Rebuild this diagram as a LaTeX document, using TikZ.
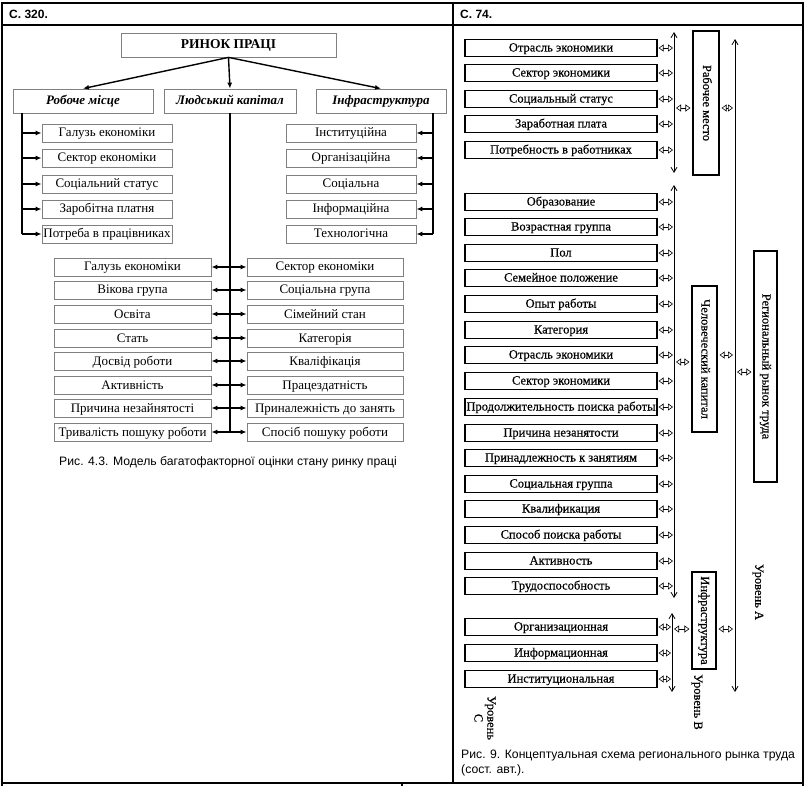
\documentclass[tikz,border=0pt]{standalone}
\usepackage{fontspec}
\setmainfont{Liberation Serif}
\newfontfamily\arialf{Liberation Sans}
\newfontfamily\scanf[FakeBold=0.5]{Liberation Serif}
\usetikzlibrary{arrows.meta}
\begin{document}
\begin{tikzpicture}[x=1pt,y=-1pt,
  frame/.style={line width=1.5pt},
  lbox/.style={draw=black!50, line width=0.8pt, minimum height=18pt, inner sep=0pt, text height=9.5pt, text depth=1.5pt, font=\fontsize{13}{15}\selectfont},
  hbox/.style={lbox, minimum height=24pt, font=\fontsize{13}{15}\selectfont\bfseries\itshape},
  lline/.style={line width=1.4pt},
  larr/.style={lline, -{Latex[length=6pt,width=5pt]}},
  ldarr/.style={lline, {Latex[length=6pt,width=5pt]}-{Latex[length=6pt,width=5pt]}},
  rbox/.style={draw=black, line width=1.1pt, minimum width=192pt, minimum height=17pt, inner sep=0pt, text height=9pt, text depth=2pt, font=\scanf\fontsize{12.5}{14}\selectfont},
  vbox/.style={draw=black, line width=1.1pt, inner sep=0pt, text height=8.5pt, text depth=2.5pt, font=\scanf\fontsize{12.5}{14}\selectfont},
  vline/.style={line width=0.8pt, {Straight Barb[length=5pt,width=6pt]}-{Straight Barb[length=5pt,width=6pt]}},
  hollow/.style={line width=0.6pt, {Triangle[open,length=5pt,width=7pt]}-{Triangle[open,length=5pt,width=7pt]}},
  caption/.style={font=\arialf\fontsize{12.2}{15}\selectfont, inner sep=0pt},
  head/.style={font=\arialf\bfseries\fontsize{12}{14}\selectfont, inner sep=0pt, anchor=west},
  lvl/.style={font=\scanf\fontsize{12.5}{13}\selectfont, inner sep=0pt, rotate=-90, align=center}
]
\useasboundingbox (0,0) rectangle (808,786);
% table
\draw[frame] (2,3) rectangle (803,783);
\draw[frame] (2,25) -- (803,25);
\draw[frame] (453,3) -- (453,783);
\draw[frame] (2,783) -- (2,786);
\draw[frame] (402,783) -- (402,786);
\draw[frame] (803,783) -- (803,786);
\node[head] (h1) at (9,14) {С. 320.};
\node[head] (h2) at (460,14) {С. 74.};

% ---------- left panel ----------
\node[lbox, minimum width=215pt, minimum height=24pt, font=\fontsize{13.5}{15}\selectfont\bfseries] (top) at (228.5,45) {РИНОК ПРАЦІ};
\node[hbox, minimum width=140pt] (rm) at (83,101) {Робоче місце};
\node[hbox, minimum width=132pt] (lk) at (230,101) {Людський капітал};
\node[hbox, minimum width=130pt] (inf) at (381,101) {Інфраструктура};
\draw[larr] (top.south) -- (rm.north);
\draw[larr] (top.south) -- (lk.north);
\draw[larr] (top.south) -- (inf.north);

\foreach \y/\t [count=\i] in {133/Галузь економіки,158/Сектор економіки,184/Соціальний статус,209/Заробітна платня,234/Потреба в працівниках}
  \node[lbox, minimum width=130pt] (ls\i) at (107,\y) {\t};
\foreach \y/\t [count=\i] in {133/Інституційна,158/Організаційна,184/Соціальна,209/Інформаційна,234/Технологічна}
  \node[lbox, minimum width=130pt] (rs\i) at (351,\y) {\t};
\coordinate (lv) at (22,113);
\coordinate (rv) at (433,113);
\draw[lline] (lv) -- (lv |- ls5.west);
\draw[lline] (rv) -- (rv |- rs5.east);
\foreach \i in {1,...,5}{
  \draw[larr] (lv |- ls\i.west) -- (ls\i.west);
  \draw[larr] (rv |- rs\i.east) -- (rs\i.east);
}

\foreach \y/\t [count=\i] in {267/Галузь економіки,290/Вікова група,314/Освіта,338/Стать,361/Досвід роботи,385/Активність,408/Причина незайнятості,432/Тривалість пошуку роботи}
  \node[lbox, minimum width=157pt] (bl\i) at (132.5,\y) {\t};
\foreach \y/\t [count=\i] in {267/Сектор економіки,290/Соціальна група,314/Сімейний стан,338/Категорія,361/Кваліфікація,385/Працездатність,408/Приналежність до занять,432/Спосіб пошуку роботи}
  \node[lbox, minimum width=156pt] (br\i) at (325,\y) {\t};
\draw[lline] (lk.south) -- (lk.south |- bl8.east);
\foreach \i in {1,...,8}
  \draw[ldarr] (bl\i.east) -- (br\i.west);
\node[caption] (cap1) at (228,462) {Рис. 4.3. Модель багатофакторної оцінки стану ринку праці};

% ---------- right panel ----------
\foreach \y/\t [count=\i] in {48/Отрасль экономики,73/Сектор экономики,99/Социальный статус,124/Заработная плата,150/Потребность в работниках}
  \node[rbox] (a\i) at (561,\y) {\t};
\foreach \y/\t [count=\i] in {202/Образование,227/Возрастная группа,253/Пол,278/Семейное положение,304/Опыт работы,330/Категория,355/Отрасль экономики,381/Сектор экономики,407/Продолжительность поиска работы,433/Причина незанятости,458/Принадлежность к занятиям,484/Социальная группа,509/Квалификация,535/Способ поиска работы,561/Активность,586/Трудоспособность}
  \node[rbox] (b\i) at (561,\y) {\t};
\foreach \y/\t [count=\i] in {627/Организационная,653/Информационная,679/Институциональная}
  \node[rbox] (c\i) at (561,\y) {\t};

\coordinate (v1t) at (674,32);  \coordinate (v1b) at (674,173);
\coordinate (v2t) at (674,185); \coordinate (v2b) at (674,598);
\coordinate (v3t) at (672,613); \coordinate (v3b) at (672,692);
\coordinate (vat) at (735,39);  \coordinate (vab) at (735,692);
\draw[vline] (v1t) -- (v1b);
\draw[vline] (v2t) -- (v2b);
\draw[vline] (v3t) -- (v3b);
\draw[vline] (vat) -- (vab);

\foreach \i in {1,...,5}
  \draw[hollow, shorten <=1pt, shorten >=1pt] (a\i.east) -- (a\i.east -| v1t);
\foreach \i in {1,...,16}
  \draw[hollow, shorten <=1pt, shorten >=1pt] (b\i.east) -- (b\i.east -| v2t);
\foreach \i in {1,...,3}
  \draw[hollow, shorten <=1pt, shorten >=1pt] (c\i.east) -- (c\i.east -| v3t);

\node[vbox, minimum width=144pt, minimum height=26pt, rotate=-90] (wp) at (706,103) {Рабочее место};
\node[vbox, minimum width=146pt, minimum height=25pt, rotate=-90] (hc) at (704.5,359) {Человеческий капитал};
\node[vbox, minimum width=97pt, minimum height=24pt, rotate=-90] (ib) at (704,620.5) {Инфраструктура};
\node[vbox, minimum width=231pt, minimum height=23pt, rotate=-90] (rr) at (765.5,366.5) {Региональный рынок труда};

\coordinate (p1) at (674,108); \coordinate (p2) at (735,108);
\draw[hollow, shorten <=2pt, shorten >=2pt] (p1) -- (p1 -| wp.south);
\draw[hollow, shorten <=2pt, shorten >=2pt] (p1 -| wp.north) -- (p2);
\coordinate (p3) at (674,362); \coordinate (p4) at (735,355);
\draw[hollow, shorten <=2pt, shorten >=2pt] (p3) -- (p3 -| hc.south);
\draw[hollow, shorten <=2pt, shorten >=2pt] (p4 -| hc.north) -- (p4);
\coordinate (p5) at (735,372);
\draw[hollow, shorten <=2pt, shorten >=2pt] (p5) -- (p5 -| rr.south);
\coordinate (p6) at (672,629); \coordinate (p7) at (735,629);
\draw[hollow, shorten <=2pt, shorten >=2pt] (p6) -- (p6 -| ib.south);
\draw[hollow, shorten <=2pt, shorten >=2pt] (p7 -| ib.north) -- (p7);

\node[lvl] (la) at (758,592) {Уровень А};
\node[lvl] (lb) at (697,702) {Уровень В};
\node[lvl] (lc) at (485,718) {Уровень\\С};

\node[caption, anchor=north west, align=left] (cap2) at (461,750) {Рис. 9. Концептуальная схема регионального рынка труда\\(сост. авт.).};
\end{tikzpicture}
\end{document}
